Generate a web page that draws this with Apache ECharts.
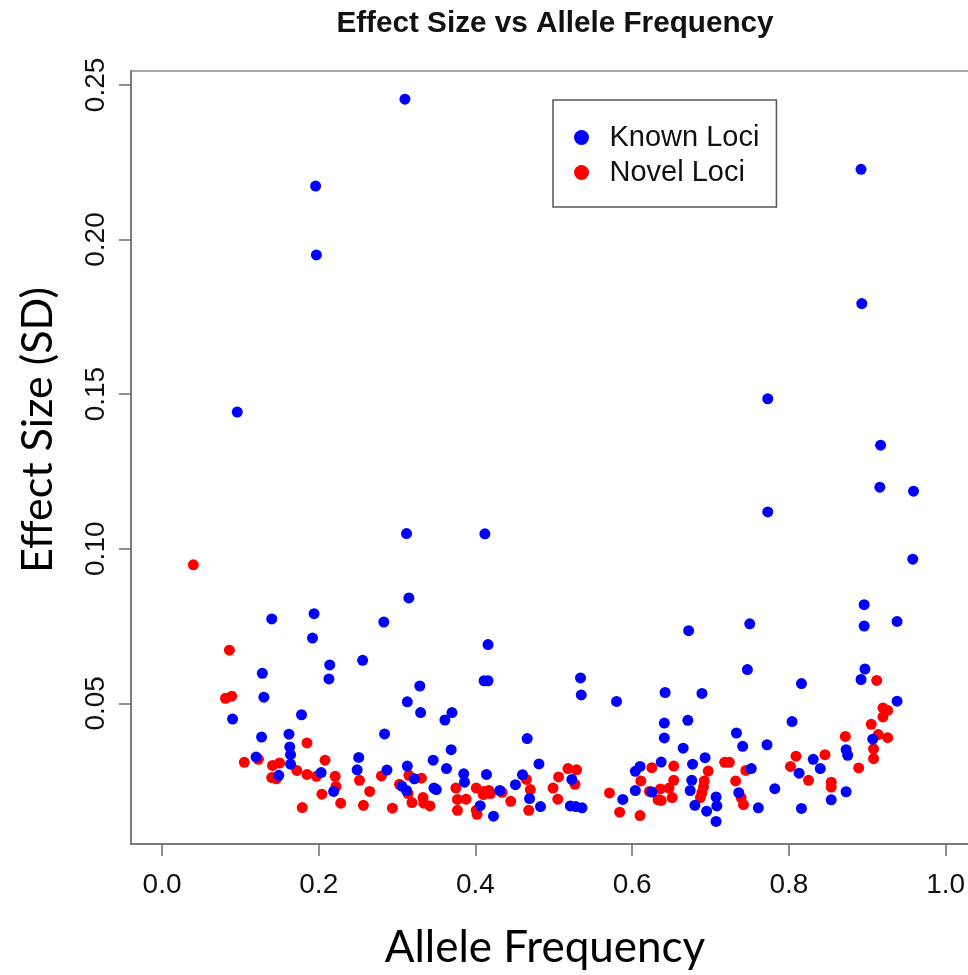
<!DOCTYPE html>
<html lang="en">
<head>
    <meta charset="utf-8">
    <title>Effect Size vs Allele Frequency</title>
    <script src="https://cdn.jsdelivr.net/npm/echarts@6/dist/echarts.min.js"></script>
    <style>
        html, body { margin: 0; padding: 0; background: #fff; overflow: hidden; }
        #main { width: 990px; height: 975px; }
    </style>
</head>
<body>
<div id="main"></div>
<script>
    // tick positions
    var xTicks = [0, 0.2, 0.4, 0.6, 0.8, 1.0];
    var yTicks = [0.05, 0.10, 0.15, 0.20, 0.25];

    // known loci (blue)
    var knownFreq = [
        0.310, 0.196, 0.197, 0.096, 0.312, 0.412, 0.892, 0.893, 0.773, 0.917,
        0.916, 0.959, 0.773, 0.958, 0.896, 0.896, 0.938, 0.897, 0.892, 0.816,
        0.804, 0.938, 0.907, 0.873, 0.875, 0.831, 0.840, 0.813, 0.782, 0.816,
        0.854, 0.873, 0.534, 0.535, 0.580, 0.672, 0.750, 0.747, 0.642, 0.689,
        0.641, 0.641, 0.671, 0.665, 0.733, 0.741, 0.772, 0.637, 0.693, 0.677,
        0.604, 0.610, 0.523, 0.604, 0.588, 0.521, 0.528, 0.536, 0.676, 0.674,
        0.680, 0.695, 0.707, 0.708, 0.707, 0.736, 0.752, 0.761, 0.625, 0.315,
        0.283, 0.256, 0.416, 0.411, 0.416, 0.329, 0.313, 0.330, 0.370, 0.361,
        0.284, 0.466, 0.369, 0.251, 0.249, 0.287, 0.313, 0.346, 0.363, 0.322,
        0.385, 0.386, 0.414, 0.481, 0.460, 0.451, 0.431, 0.306, 0.312, 0.347,
        0.350, 0.406, 0.423, 0.469, 0.483, 0.140, 0.194, 0.192, 0.214, 0.213,
        0.128, 0.130, 0.090, 0.178, 0.127, 0.162, 0.163, 0.164, 0.164, 0.149,
        0.203, 0.219, 0.120
    ];
    var knownEffect = [
        0.2454, 0.2173, 0.1950, 0.1442, 0.1049, 0.1048, 0.2227, 0.1793, 0.1485, 0.1335,
        0.1199, 0.1186, 0.1119, 0.0966, 0.0819, 0.0750, 0.0765, 0.0611, 0.0577, 0.0564,
        0.0441, 0.0507, 0.0384, 0.0350, 0.0332, 0.0319, 0.0289, 0.0274, 0.0224, 0.0160,
        0.0188, 0.0214, 0.0582, 0.0527, 0.0506, 0.0735, 0.0757, 0.0609, 0.0535, 0.0532,
        0.0436, 0.0388, 0.0445, 0.0355, 0.0404, 0.0361, 0.0366, 0.0310, 0.0324, 0.0303,
        0.0280, 0.0296, 0.0254, 0.0218, 0.0189, 0.0168, 0.0166, 0.0162, 0.0251, 0.0218,
        0.0170, 0.0151, 0.0197, 0.0168, 0.0118, 0.0211, 0.0289, 0.0162, 0.0213, 0.0841,
        0.0763, 0.0639, 0.0690, 0.0573, 0.0573, 0.0556, 0.0505, 0.0470, 0.0470, 0.0446,
        0.0401, 0.0386, 0.0350, 0.0325, 0.0285, 0.0284, 0.0297, 0.0316, 0.0289, 0.0256,
        0.0272, 0.0245, 0.0270, 0.0304, 0.0269, 0.0237, 0.0218, 0.0232, 0.0218, 0.0226,
        0.0221, 0.0169, 0.0135, 0.0192, 0.0166, 0.0773, 0.0790, 0.0711, 0.0624, 0.0579,
        0.0597, 0.0520, 0.0449, 0.0463, 0.0391, 0.0400, 0.0359, 0.0334, 0.0303, 0.0267,
        0.0276, 0.0215, 0.0326
    ];

    // novel loci (red)
    var novelFreq = [
        0.040, 0.086, 0.081, 0.089, 0.185, 0.105, 0.123, 0.141, 0.150, 0.140,
        0.146, 0.172, 0.185, 0.197, 0.208, 0.221, 0.222, 0.204, 0.179, 0.228,
        0.252, 0.265, 0.257, 0.280, 0.294, 0.303, 0.315, 0.314, 0.319, 0.331,
        0.333, 0.334, 0.342, 0.375, 0.377, 0.388, 0.377, 0.401, 0.411, 0.417,
        0.410, 0.419, 0.401, 0.402, 0.434, 0.445, 0.465, 0.470, 0.468, 0.499,
        0.506, 0.505, 0.518, 0.529, 0.527, 0.571, 0.584, 0.610, 0.611, 0.625,
        0.622, 0.636, 0.633, 0.637, 0.647, 0.653, 0.651, 0.653, 0.697, 0.692,
        0.691, 0.689, 0.687, 0.718, 0.724, 0.732, 0.739, 0.742, 0.745, 0.912,
        0.920, 0.926, 0.920, 0.905, 0.872, 0.914, 0.926, 0.908, 0.908, 0.809,
        0.802, 0.846, 0.889, 0.825, 0.854, 0.854
    ];
    var novelEffect = [
        0.0948, 0.0672, 0.0516, 0.0523, 0.0372, 0.0309, 0.0319, 0.0299, 0.0307, 0.0260,
        0.0256, 0.0283, 0.0270, 0.0264, 0.0316, 0.0264, 0.0231, 0.0206, 0.0163, 0.0177,
        0.0251, 0.0215, 0.0170, 0.0265, 0.0161, 0.0238, 0.0267, 0.0208, 0.0179, 0.0258,
        0.0195, 0.0177, 0.0168, 0.0226, 0.0189, 0.0190, 0.0154, 0.0226, 0.0215, 0.0218,
        0.0205, 0.0208, 0.0154, 0.0141, 0.0212, 0.0183, 0.0254, 0.0221, 0.0154, 0.0226,
        0.0262, 0.0190, 0.0289, 0.0285, 0.0238, 0.0210, 0.0148, 0.0137, 0.0249, 0.0292,
        0.0215, 0.0223, 0.0188, 0.0186, 0.0226, 0.0251, 0.0195, 0.0297, 0.0281, 0.0249,
        0.0229, 0.0211, 0.0195, 0.0309, 0.0309, 0.0249, 0.0195, 0.0172, 0.0283, 0.0574,
        0.0485, 0.0477, 0.0456, 0.0432, 0.0393, 0.0399, 0.0389, 0.0353, 0.0321, 0.0329,
        0.0296, 0.0334, 0.0291, 0.0251, 0.0245, 0.0229
    ];

    function pairs(xs, ys) {
        var out = [];
        for (var i = 0; i < xs.length; i++) {
            out.push([xs[i], ys[i]]);
        }
        return out;
    }

    var chartDom = document.getElementById('main');
    var myChart = echarts.init(chartDom);
    var option;

    var tickFont = 'Liberation Sans, Arial, sans-serif';

    option = {
        backgroundColor: '#ffffff',
        animation: false,
        grid: {
            left: 131,
            right: 13,
            top: 71,
            bottom: 131,
            show: true,
            borderColor: '#8c8c8c',
            borderWidth: 1.5,
            backgroundColor: 'transparent'
        },
        legend: {
            left: 553,
            top: 100,
            orient: 'vertical',
            data: ['Known Loci', 'Novel Loci'],
            icon: 'circle',
            itemWidth: 46,
            itemHeight: 15,
            itemGap: 6,
            padding: [23, 17, 20, 21],
            borderColor: '#555',
            borderWidth: 1.5,
            textStyle: {
                fontFamily: tickFont,
                fontSize: 29,
                color: '#111'
            }
        },
        xAxis: {
            type: 'value',
            min: -0.0396,
            max: 1.04,
            splitLine: { show: false },
            axisLine: { show: true, onZero: false, lineStyle: { color: '#6e6e6e', width: 1.5 } },
            axisTick: {
                show: true,
                length: 12,
                customValues: xTicks,
                lineStyle: { color: '#6e6e6e', width: 1.5 }
            },
            axisLabel: {
                customValues: xTicks,
                margin: 27,
                fontFamily: tickFont,
                fontSize: 28,
                color: '#111',
                formatter: function (v) { return v.toFixed(1); }
            }
        },
        yAxis: {
            type: 'value',
            min: 0.0045,
            max: 0.2545,
            splitLine: { show: false },
            axisLine: { show: true, onZero: false, lineStyle: { color: '#6e6e6e', width: 1.5 } },
            axisTick: {
                show: true,
                length: 12,
                customValues: yTicks,
                lineStyle: { color: '#6e6e6e', width: 1.5 }
            },
            axisLabel: {
                customValues: yTicks,
                rotate: 90,
                margin: 21,
                fontFamily: tickFont,
                fontSize: 28,
                color: '#111',
                formatter: function (v) { return v.toFixed(2); }
            }
        },
        graphic: [
            {
                type: 'text',
                x: 555,
                y: 24,
                style: {
                    text: 'Effect Size vs Allele Frequency',
                    font: 'bold 29.7px Liberation Sans, Arial, sans-serif',
                    fill: '#111',
                    align: 'center',
                    verticalAlign: 'middle'
                }
            },
            {
                type: 'text',
                x: 545,
                y: 948,
                style: {
                    text: 'Allele Frequency',
                    font: '44px Lato, Noto Sans, sans-serif',
                    fill: '#000',
                    align: 'center',
                    verticalAlign: 'middle'
                }
            },
            {
                type: 'text',
                x: 38,
                y: 430,
                rotation: Math.PI / 2,
                style: {
                    text: 'Effect Size (SD)',
                    font: '43px Lato, Noto Sans, sans-serif',
                    fill: '#000',
                    align: 'center',
                    verticalAlign: 'middle'
                }
            }
        ],
        series: [
            {
                name: 'Novel Loci',
                type: 'scatter',
                symbolSize: 11,
                itemStyle: { color: '#ff0000', opacity: 1 },
                data: pairs(novelFreq, novelEffect)
            },
            {
                name: 'Known Loci',
                type: 'scatter',
                symbolSize: 11,
                itemStyle: { color: '#0000ff', opacity: 1 },
                data: pairs(knownFreq, knownEffect)
            }
        ]
    };

    myChart.setOption(option);
</script>
</body>
</html>
